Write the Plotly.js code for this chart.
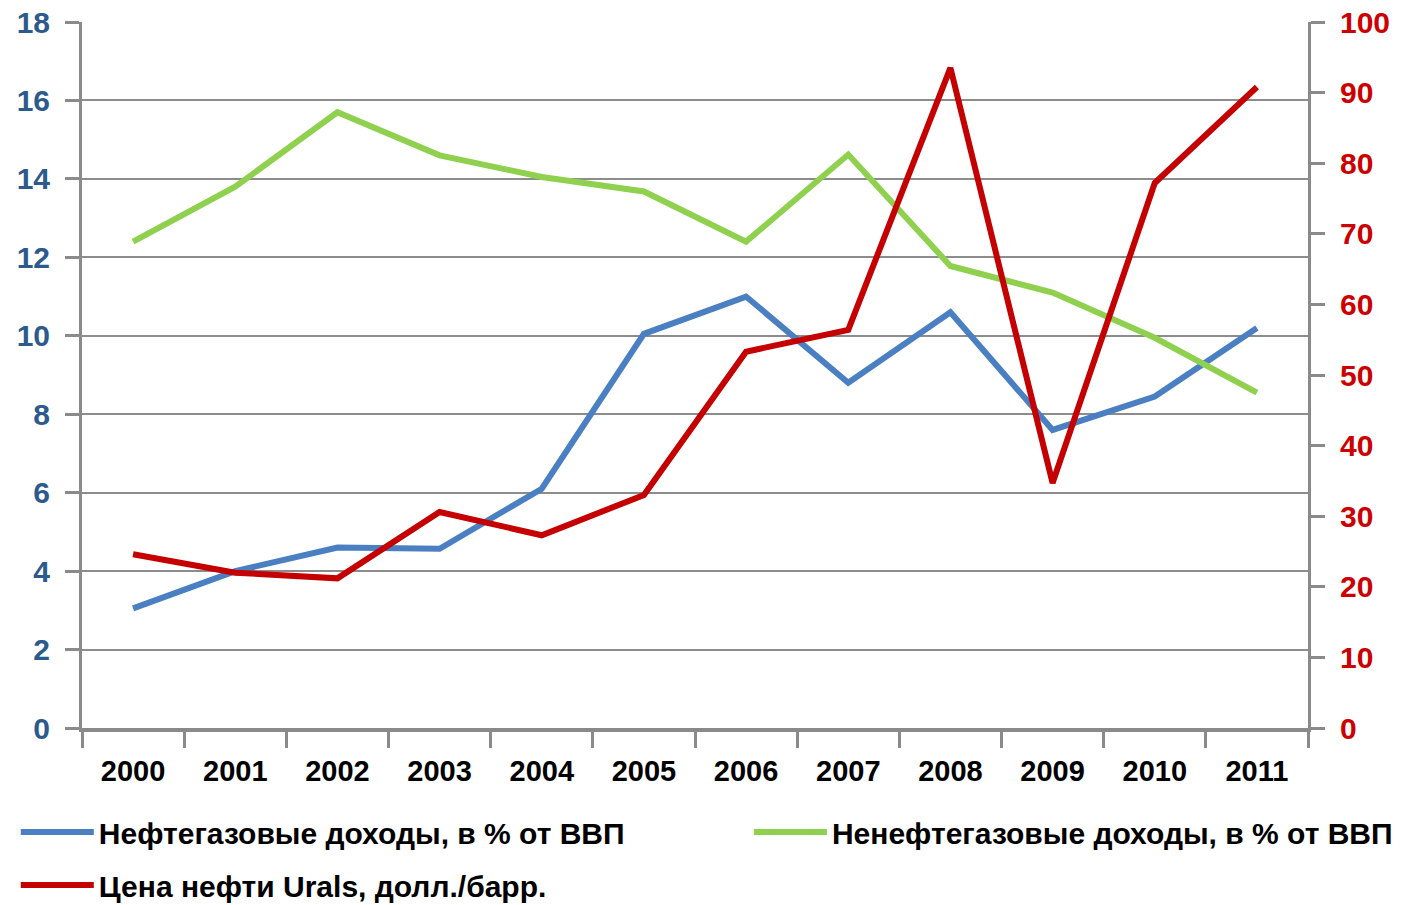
<!DOCTYPE html>
<html>
<head>
<meta charset="utf-8">
<script src="https://cdn.plot.ly/plotly-3.0.1.min.js"></script>
<style>
html,body{margin:0;padding:0;background:#fff;}
#chart{width:1401px;height:905px;}
</style>
</head>
<body>
<div id="chart"></div>
<script>
const years = ["2000","2001","2002","2003","2004","2005","2006","2007","2008","2009","2010","2011"];
const oilGasRevenue = [3.05, 4.0, 4.6, 4.57, 6.1, 10.05, 11.0, 8.8, 10.6, 7.6, 8.45, 10.2];
const nonOilGasRevenue = [12.4, 13.8, 15.7, 14.6, 14.05, 13.68, 12.4, 14.62, 11.78, 11.1, 9.95, 8.55];
const uralsPrice = [24.6, 22.0, 21.2, 30.6, 27.3, 33.0, 53.3, 56.4, 93.5, 34.7, 77.2, 90.8];
const leftTicks = [0,2,4,6,8,10,12,14,16,18];
const rightTicks = [0,10,20,30,40,50,60,70,80,90,100];
const names = ["Нефтегазовые доходы, в % от ВВП", "Ненефтегазовые доходы, в % от ВВП", "Цена нефти Urals, долл./барр."];

const FONT = '"Liberation Sans", Arial, sans-serif';

const traces = [
  {x: years, y: oilGasRevenue, name: names[0], type: 'scatter', mode: 'lines',
   line: {color: '#4a7fc1', width: 6}, yaxis: 'y', legend: 'legend'},
  {x: years, y: nonOilGasRevenue, name: names[1], type: 'scatter', mode: 'lines',
   line: {color: '#8fd14f', width: 6}, yaxis: 'y', legend: 'legend2'},
  {x: years, y: uralsPrice, name: names[2], type: 'scatter', mode: 'lines',
   line: {color: '#c40000', width: 6}, yaxis: 'y2', legend: 'legend3'}
];

function legendBox(x, y) {
  return {
    orientation: 'h', x: x, xanchor: 'left', y: y, yanchor: 'top',
    font: {family: FONT, size: 30, color: '#000', weight: 'bold'},
    itemwidth: 73, bgcolor: 'rgba(0,0,0,0)'
  };
}

const layout = {
  width: 1401, height: 905,
  paper_bgcolor: '#ffffff', plot_bgcolor: '#ffffff',
  margin: {l: 82, r: 93, t: 22, b: 177, autoexpand: false},
  showlegend: true,
  legend: legendBox(-0.054, -0.1105),
  legend2: legendBox(0.544, -0.1105),
  legend3: legendBox(-0.054, -0.1856),
  xaxis: {
    type: 'category', range: [-0.5, 11.5],
    showgrid: false, zeroline: false,
    showline: true, linecolor: '#8a8a8a', linewidth: 4,
    ticks: 'outside', tickson: 'boundaries', ticklen: 16, tickwidth: 3, tickcolor: '#8a8a8a',
    tickfont: {family: FONT, size: 29, color: '#000', weight: 'bold'},
    ticklabelstandoff: 14, fixedrange: true
  },
  yaxis: {
    range: [0, 18], tickvals: leftTicks, ticktext: leftTicks.map(String),
    showgrid: true, gridcolor: '#8c8c8c', gridwidth: 2, zeroline: false,
    showline: true, linecolor: '#8a8a8a', linewidth: 3,
    ticks: 'outside', ticklen: 14, tickwidth: 3, tickcolor: '#8a8a8a',
    tickfont: {family: FONT, size: 30, color: '#2c5a8c', weight: 'bold'},
    ticklabelstandoff: 9, fixedrange: true
  },
  yaxis2: {
    range: [0, 100], tickvals: rightTicks, ticktext: rightTicks.map(String),
    overlaying: 'y', side: 'right',
    showgrid: false, zeroline: false,
    showline: true, linecolor: '#8a8a8a', linewidth: 3,
    ticks: 'outside', ticklen: 14, tickwidth: 3, tickcolor: '#8a8a8a',
    tickfont: {family: FONT, size: 30, color: '#cc0000', weight: 'bold'},
    ticklabelstandoff: 9, fixedrange: true
  }
};

Plotly.newPlot('chart', traces, layout, {displayModeBar: false, staticPlot: true});
</script>
</body>
</html>
